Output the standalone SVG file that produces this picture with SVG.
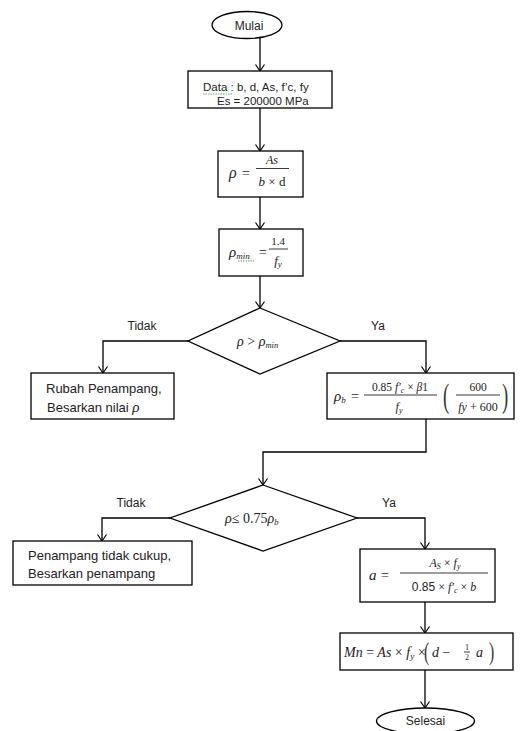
<svg xmlns="http://www.w3.org/2000/svg" width="521" height="731" viewBox="0 0 521 731">
<defs>
<marker id="arr" markerWidth="12" markerHeight="12" refX="10" refY="6" orient="auto" markerUnits="userSpaceOnUse">
<path d="M3.5,1.5 L10,6 L3.5,10.5" fill="none" stroke="#000" stroke-width="1.2"/>
</marker>
</defs>
<style>
.shape{fill:#fff;stroke:#000;stroke-width:1.3}
.conn{fill:none;stroke:#000;stroke-width:1.3}
.bar{stroke:#222;stroke-width:0.9}
.t{font-family:"Liberation Sans",Arial,sans-serif;font-size:13px;fill:#222}
.lbl{font-family:"Liberation Sans",Arial,sans-serif;font-size:12px;fill:#222}
.m{font-family:"Liberation Serif","Times New Roman",serif;font-style:italic;font-size:14px;fill:#222}
.u{font-style:normal}
.par{font-family:"Liberation Serif","Times New Roman",serif;font-style:normal;fill:#333}
.sq{fill:none;stroke:#3a9a3a;stroke-width:0.8;stroke-dasharray:1.5 1}
</style>
<rect width="521" height="731" fill="#fff"/>

<g id="connectors">
<path class="conn" d="M260,38 V71" marker-end="url(#arr)"/>
<path class="conn" d="M260,108 V151" marker-end="url(#arr)"/>
<path class="conn" d="M260,197 V229" marker-end="url(#arr)"/>
<path class="conn" d="M260,276 V308" marker-end="url(#arr)"/>
<path class="conn" d="M188,341 H103 V373" marker-end="url(#arr)"/>
<path class="conn" d="M340,341 H426 V373" marker-end="url(#arr)"/>
<path class="conn" d="M426,419 V452 H263 V485" marker-end="url(#arr)"/>
<path class="conn" d="M170,518 H102 V541" marker-end="url(#arr)"/>
<path class="conn" d="M357,518 H425 V549" marker-end="url(#arr)"/>
<path class="conn" d="M425,602 V633" marker-end="url(#arr)"/>
<path class="conn" d="M425,670 V708" marker-end="url(#arr)"/>
<text class="lbl" x="142" y="330" text-anchor="middle">Tidak</text>
<text class="lbl" x="378" y="330" text-anchor="middle">Ya</text>
<text class="lbl" x="131" y="507" text-anchor="middle">Tidak</text>
<text class="lbl" x="389" y="507" text-anchor="middle">Ya</text>
</g>

<g id="mulai">
<ellipse class="shape" cx="247" cy="25" rx="35" ry="13.5"/>
<text class="lbl" x="249" y="29.5" text-anchor="middle">Mulai</text>
</g>

<g id="data">
<rect class="shape" x="188" y="71" width="144" height="37"/>
<text class="t" x="203" y="91" style="font-size:11.5px">Data :  b, d, As, f’c, fy</text>
<path class="sq" d="M203,94 H232"/>
<text class="t" x="217" y="104.5" style="font-size:11.5px">Es = 200000 MPa</text>
</g>

<g id="rho">
<rect class="shape" x="218" y="151" width="85" height="46"/>
<text class="m" x="229" y="178" style="font-size:16px">ρ</text>
<text class="m u" x="242" y="178">=</text>
<text class="m" x="272" y="164" text-anchor="middle" style="font-size:12px">As</text>
<line class="bar" x1="256" y1="168.5" x2="289" y2="168.5"/>
<text class="m" x="272" y="186" text-anchor="middle" style="font-size:13px">b <tspan class="u">× d</tspan></text>
</g>

<g id="rhomin">
<rect class="shape" x="219" y="229" width="84" height="47"/>
<text class="m" x="229" y="257" style="font-size:15px">ρ<tspan dy="2" style="font-size:9px">min</tspan></text>
<path class="sq" d="M238,261 H254"/>
<text class="m u" x="259" y="257">=</text>
<text class="m u" x="278" y="245" text-anchor="middle" style="font-size:11px">1.4</text>
<line class="bar" x1="269" y1="249" x2="288" y2="249"/>
<text class="m" x="278" y="265" text-anchor="middle" style="font-size:13px">f<tspan dy="2" style="font-size:9px">y</tspan></text>
</g>

<g id="cek1">
<polygon class="shape" points="260,308 340,341 260,374 188,341"/>
<text class="m" x="237" y="346" style="font-size:14px">ρ <tspan class="u">&gt;</tspan> ρ<tspan dy="2" style="font-size:8.5px">min</tspan></text>
</g>

<g id="rubah">
<rect class="shape" x="31" y="373" width="143" height="46"/>
<text class="t" x="46" y="393">Rubah Penampang,</text>
<text class="t" x="47" y="412">Besarkan nilai <tspan class="m" style="font-size:15px">ρ</tspan></text>
</g>

<g id="rhob">
<rect class="shape" x="327" y="373" width="187" height="46"/>
<text class="m" x="334" y="401" style="font-size:15px">ρ<tspan dy="2" style="font-size:9px">b</tspan></text>
<text class="m u" x="351" y="401">=</text>
<text class="m" x="400" y="391" text-anchor="middle" style="font-size:11.5px"><tspan class="u">0.85 </tspan>f′<tspan dy="2" style="font-size:8px">c</tspan><tspan dy="-2" class="u"> × </tspan>β<tspan class="u">1</tspan></text>
<line class="bar" x1="364" y1="395" x2="437" y2="395"/>
<text class="m" x="399" y="411" text-anchor="middle" style="font-size:12px">f<tspan dy="2" style="font-size:8px">y</tspan></text>
<text class="par" transform="translate(443,407) scale(0.55,1)" style="font-size:34px">(</text>
<text class="m u" x="478" y="391" text-anchor="middle" style="font-size:11.5px">600</text>
<line class="bar" x1="456" y1="395" x2="500" y2="395"/>
<text class="m" x="478" y="411" text-anchor="middle" style="font-size:12px">fy<tspan class="u"> + 600</tspan></text>
<text class="par" transform="translate(502,407) scale(0.55,1)" style="font-size:34px">)</text>
</g>

<g id="cek2">
<polygon class="shape" points="263,485 357,518 263,551 170,518"/>
<text class="m" x="225" y="523" style="font-size:14px">ρ<tspan class="u">≤ 0.75</tspan>ρ<tspan dy="2" style="font-size:8.5px">b</tspan></text>
</g>

<g id="penampang">
<rect class="shape" x="13" y="541" width="179" height="44"/>
<text class="t" x="28" y="560">Penampang tidak cukup,</text>
<text class="t" x="28" y="578">Besarkan penampang</text>
</g>

<g id="a">
<rect class="shape" x="360" y="549" width="135" height="53"/>
<text class="m" x="369" y="580" style="font-size:15px">a</text>
<text class="m u" x="381" y="580">=</text>
<text class="m" x="445" y="567" text-anchor="middle" style="font-size:12px">A<tspan dy="2" style="font-size:8px">S</tspan><tspan dy="-2" class="u"> × </tspan>f<tspan dy="2" style="font-size:8px">y</tspan></text>
<line class="bar" x1="400" y1="573" x2="488" y2="573"/>
<text class="m" x="444" y="591" text-anchor="middle" style="font-size:12px"><tspan class="u" style="font-family:'Liberation Sans',Arial,sans-serif">0.85</tspan><tspan class="u"> × </tspan>f′<tspan dy="2" style="font-size:8px">c</tspan><tspan dy="-2" class="u"> × </tspan>b</text>
</g>

<g id="mn">
<rect class="shape" x="340" y="633" width="173" height="37"/>
<text class="m" x="344" y="657" style="font-size:14px">Mn <tspan class="u">=</tspan> As <tspan class="u">×</tspan> f<tspan dy="2" style="font-size:9px">y</tspan><tspan dy="-2" class="u"> ×</tspan></text>
<text class="par" transform="translate(424,660) scale(0.6,1)" style="font-size:26px">(</text>
<text class="m" x="432" y="657" style="font-size:14px">d <tspan class="u">−</tspan></text>
<text class="m u" x="467" y="650" text-anchor="middle" style="font-size:8px">1</text>
<line class="bar" x1="464" y1="652" x2="470" y2="652"/>
<text class="m u" x="467" y="660" text-anchor="middle" style="font-size:8px">2</text>
<text class="m" x="476" y="657" style="font-size:14px">a</text>
<text class="par" transform="translate(489,660) scale(0.6,1)" style="font-size:26px">)</text>
</g>

<g id="selesai">
<ellipse class="shape" cx="425.5" cy="721" rx="49" ry="13"/>
<text class="lbl" x="425.5" y="725" text-anchor="middle">Selesai</text>
</g>
</svg>
